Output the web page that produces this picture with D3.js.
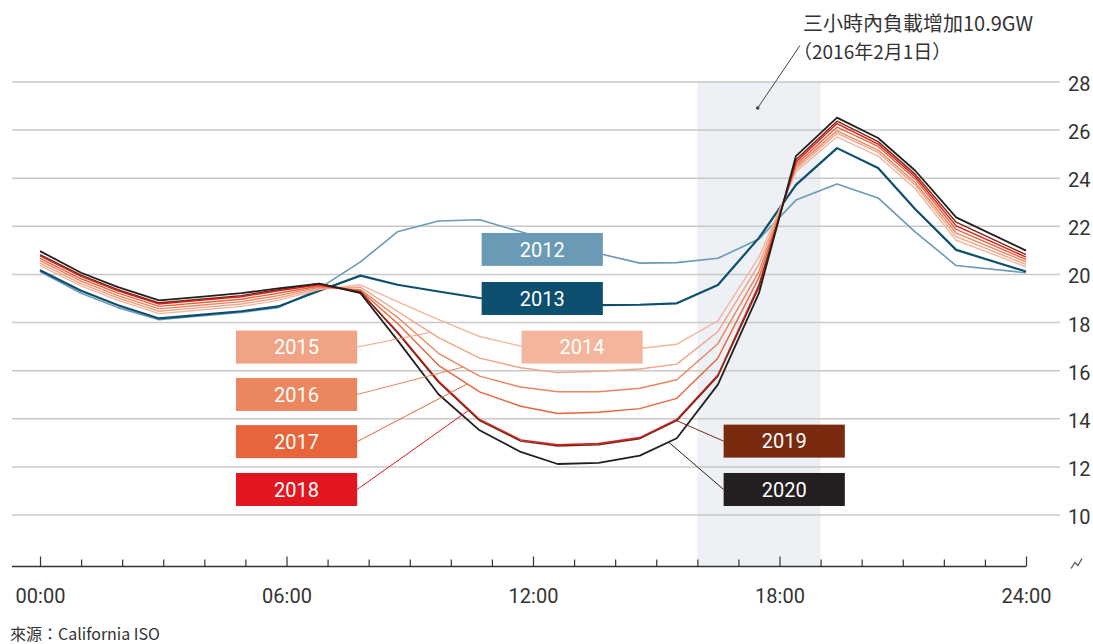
<!DOCTYPE html>
<meta charset="utf-8">
<script src="https://d3js.org/d3.v7.min.js"></script>
<style>
  body { margin: 0; background: #fff; }
  text { font-family: Roboto, "Noto Sans CJK TC", sans-serif; }
  .grid line { stroke: #c9c9c9; stroke-width: 1.5; }
  .grid text { fill: #333; font-size: 20px; }
</style>
<svg id="chart" width="1093" height="644"></svg>
<script>
  // hour of each vertex
  var hours = [0, 1, 1.9, 2.9, 3.9, 4.9, 5.8, 6.8, 7.8, 8.7, 9.7, 10.7, 11.7, 12.6, 13.6, 14.6, 15.5, 16.5, 17.5, 18.4, 19.4, 20.4, 21.3, 22.3, 24];

  // load, GW
  var load2012 = [20.1, 19.2, 18.6, 18.1, 18.25, 18.4, 18.6, 19.4, 20.5, 21.75, 22.2, 22.25, 21.75, 21.3, 20.85, 20.45, 20.47, 20.65, 21.45, 23.07, 23.74, 23.16, 21.75, 20.35, 20.05];
  var load2013 = [20.15, 19.3, 18.7, 18.15, 18.3, 18.45, 18.65, 19.3, 19.93, 19.55, 19.27, 19.0, 18.85, 18.75, 18.7, 18.72, 18.78, 19.54, 21.5, 23.7, 25.23, 24.4, 22.7, 21.0, 20.1];
  var load2014 = [20.35, 19.5, 18.9, 18.35, 18.5, 18.65, 18.9, 19.35, 19.55, 18.85, 18.1, 17.4, 17.0, 16.85, 16.85, 16.9, 17.08, 18.05, 20.7, 24.25, 25.7, 24.9, 23.55, 21.4, 20.3];
  var load2015 = [20.45, 19.6, 19.0, 18.45, 18.6, 18.75, 19.0, 19.4, 19.45, 18.45, 17.35, 16.5, 16.1, 15.9, 15.95, 16.05, 16.25, 17.6, 20.4, 24.35, 25.85, 25.05, 23.7, 21.55, 20.4];
  var load2016 = [20.55, 19.7, 19.1, 18.55, 18.7, 18.85, 19.1, 19.45, 19.35, 18.2, 16.7, 15.75, 15.3, 15.1, 15.1, 15.25, 15.6, 17.1, 20.1, 24.45, 25.95, 25.15, 23.8, 21.7, 20.5];
  var load2017 = [20.65, 19.8, 19.2, 18.65, 18.8, 18.95, 19.2, 19.5, 19.3, 17.95, 16.2, 15.1, 14.5, 14.2, 14.25, 14.4, 14.83, 16.5, 19.85, 24.55, 26.1, 25.3, 23.95, 21.85, 20.6];
  var load2018 = [20.75, 19.9, 19.3, 18.75, 18.9, 19.05, 19.3, 19.55, 19.25, 17.6, 15.55, 13.95, 13.1, 12.9, 12.95, 13.2, 13.95, 15.8, 19.55, 24.65, 26.25, 25.4, 24.05, 22.0, 20.7];
  var load2019 = [20.8, 19.95, 19.35, 18.8, 18.95, 19.1, 19.35, 19.6, 19.25, 17.55, 15.5, 13.9, 13.05, 12.85, 12.9, 13.15, 13.9, 15.75, 19.45, 24.75, 26.35, 25.5, 24.15, 22.15, 20.8];
  var load2020 = [20.95, 20.05, 19.45, 18.9, 19.05, 19.2, 19.4, 19.6, 19.2, 17.25, 15.0, 13.5, 12.6, 12.1, 12.15, 12.45, 13.17, 15.4, 19.2, 24.9, 26.5, 25.65, 24.3, 22.35, 20.97];

  var years = ["2012", "2013", "2014", "2015", "2016", "2017", "2018", "2019", "2020"];
  var series = [load2012, load2013, load2014, load2015, load2016, load2017, load2018, load2019, load2020];

  var yTicks = [10, 12, 14, 16, 18, 20, 22, 24, 26, 28];
  var xTickLabels = [0, 6, 12, 18, 24];
  var peakWindow = [16, 19];
  var note1 = "三小時內負載增加10.9GW";
  var note2 = "（2016年2月1日）";
  var source = "來源：California ISO";

  var colors = ["#6b9ab6", "#0c4f6e", "#f3b69c", "#f0a485", "#eb865f", "#e8653c", "#e1161f", "#7a2a0f", "#231f20"];
  var widths = [1.6, 2.2, 1.4, 1.4, 1.4, 1.4, 1.4, 1.4, 1.8];

  // label boxes: left edge (hour), centre (GW), connector target hour
  var labelSpots = [
    { year: "2012", h: 10.75, v: 21.02 },
    { year: "2013", h: 10.75, v: 18.98 },
    { year: "2014", h: 11.72, v: 16.96 },
    { year: "2015", h: 4.77, v: 16.96, to: 9.5 },
    { year: "2016", h: 4.77, v: 14.99, to: 10.3 },
    { year: "2017", h: 4.77, v: 13.03, to: 10.4 },
    { year: "2018", h: 4.77, v: 11.04, to: 10.45 },
    { year: "2019", h: 16.64, v: 13.05, to: 15.5 },
    { year: "2020", h: 16.64, v: 11.04, to: 15.3 }
  ];

  var svg = d3.select("#chart");

  var x = d3.scaleLinear().domain([0, 24]).range([40, 1026]);
  var y = d3.scaleLinear().domain([10, 28]).range([514.5, 81.5]);
  var axisY = y(10) + 52;

  // peak window shading
  svg.append("rect")
    .attr("x", x(peakWindow[0]))
    .attr("y", y(28))
    .attr("width", x(peakWindow[1]) - x(peakWindow[0]))
    .attr("height", axisY - y(28))
    .attr("fill", "#edf0f5");

  // gridlines + right labels
  var gridG = svg.append("g")
    .attr("class", "grid")
    .attr("transform", "translate(1060,0)")
    .call(d3.axisRight(y).tickValues(yTicks).tickSize(-1048).tickPadding(8));
  gridG.select(".domain").remove();
  gridG.selectAll("text").attr("dy", "0.45em");

  // x axis: baseline, hourly ticks pointing up, labels below
  svg.append("line")
    .attr("x1", 12).attr("x2", x(24))
    .attr("y1", axisY).attr("y2", axisY)
    .attr("stroke", "#333").attr("stroke-width", 1.5);

  var tickG = svg.append("g")
    .attr("transform", "translate(0," + axisY + ")")
    .call(d3.axisTop(x).tickValues(d3.range(0, 25)).tickSize(7).tickFormat(""));
  tickG.select(".domain").remove();
  tickG.selectAll("line")
    .attr("stroke", "#333").attr("stroke-width", 1.2)
    .attr("y2", function (d) { return d % 6 === 0 ? -10 : -7; });

  var labG = svg.append("g")
    .attr("transform", "translate(0," + axisY + ")")
    .call(d3.axisBottom(x).tickValues(xTickLabels).tickSize(0).tickPadding(22)
      .tickFormat(function (d) { return (d < 10 ? "0" : "") + d + ":00"; }));
  labG.select(".domain").remove();
  labG.selectAll("text").attr("fill", "#333").style("font-size", "20px");

  // axis break mark
  svg.append("path")
    .attr("d", "M1071," + (axisY + 2) + " l4,-6 l3,3 l4,-7")
    .attr("fill", "none").attr("stroke", "#555").attr("stroke-width", 1.3);

  // lines
  var line = d3.line()
    .x(function (d, i) { return x(hours[i]); })
    .y(function (d) { return y(d); });

  svg.append("g")
    .selectAll("path")
    .data(series)
    .enter()
    .append("path")
    .attr("d", line)
    .attr("fill", "none")
    .attr("stroke", function (d, i) { return colors[i]; })
    .attr("stroke-width", function (d, i) { return widths[i]; })
    .attr("stroke-linejoin", "round");

  function valueAt(vals, h) {
    var j = d3.bisectRight(hours, h) - 1;
    var t = (h - hours[j]) / (hours[j + 1] - hours[j]);
    return vals[j] + t * (vals[j + 1] - vals[j]);
  }

  // labels
  var boxW = x(2.95) - x(0), boxH = 33;
  labelSpots.forEach(function (s) {
    var k = years.indexOf(s.year);
    var bx = x(s.h), by = y(s.v);
    if (s.to !== undefined) {
      var fromX = s.to > s.h ? bx + boxW : bx;
      svg.append("line")
        .attr("x1", fromX).attr("y1", by)
        .attr("x2", x(s.to)).attr("y2", y(valueAt(series[k], s.to)))
        .attr("stroke", colors[k]).attr("stroke-width", 1);
    }
    svg.append("rect")
      .attr("x", bx).attr("y", by - boxH / 2)
      .attr("width", boxW).attr("height", boxH)
      .attr("fill", colors[k]);
    svg.append("text")
      .attr("x", bx + boxW / 2).attr("y", by)
      .attr("dy", "0.36em")
      .attr("text-anchor", "middle")
      .attr("fill", "#fff")
      .style("font-size", "20px")
      .text(s.year);
  });

  // annotation
  svg.append("circle")
    .attr("cx", x(17.47)).attr("cy", y(26.9)).attr("r", 1.8).attr("fill", "#444");
  svg.append("line")
    .attr("x1", x(17.47)).attr("y1", y(26.9))
    .attr("x2", x(18.5)).attr("y2", y(29.5))
    .attr("stroke", "#444").attr("stroke-width", 1);
  svg.append("text")
    .attr("x", 803).attr("y", 31)
    .style("font-family", "'Noto Sans CJK TC', sans-serif")
    .style("font-size", "20px").attr("fill", "#333")
    .text(note1);
  svg.append("text")
    .attr("x", 793).attr("y", 59)
    .style("font-family", "'Noto Sans CJK TC', sans-serif")
    .style("font-size", "19px").attr("fill", "#333")
    .text(note2);

  svg.append("text")
    .attr("x", 10).attr("y", 640)
    .style("font-family", "'Noto Sans CJK TC', sans-serif")
    .style("font-size", "16px").attr("fill", "#333")
    .text(source);
</script>
